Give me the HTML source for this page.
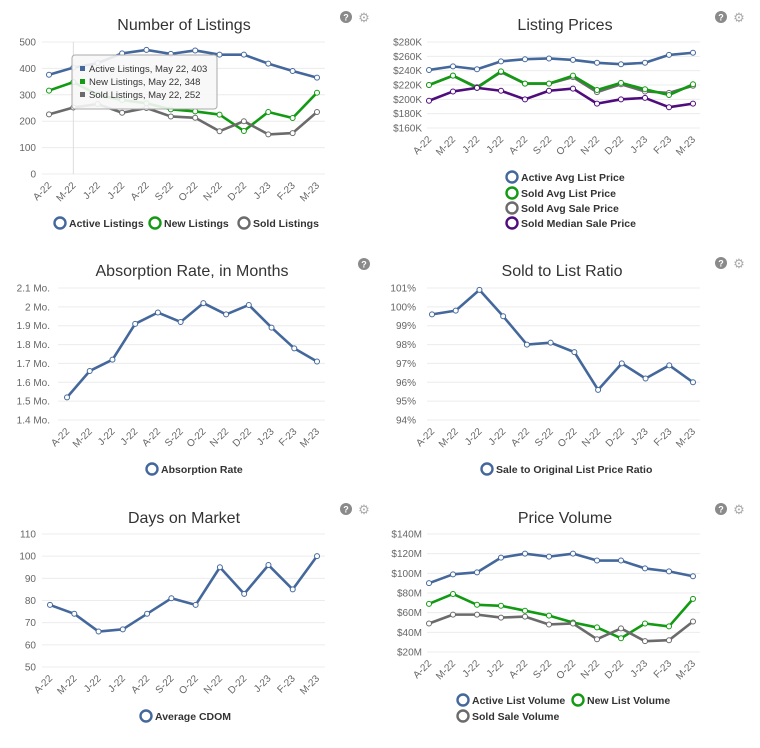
<!DOCTYPE html>
<html><head><meta charset="utf-8">
<style>
body{margin:0;background:#fff;width:760px;height:748px;overflow:hidden;font-family:"Liberation Sans",sans-serif}
svg{display:block}
</style></head>
<body>
<svg id="s" width="760" height="748" xmlns="http://www.w3.org/2000/svg"></svg>
<script>
const months = ["A-22","M-22","J-22","J-22","A-22","S-22","O-22","N-22","D-22","J-23","F-23","M-23"];
// Chart 1: Number of Listings
const activeListings = [376,403,420,457,470,455,468,452,452,418,390,365];
const newListings = [316,348,300,280,268,245,237,225,163,235,212,308];
const soldListings = [226,252,265,232,250,218,213,162,200,150,155,235];
const listingTicks = [0,100,200,300,400,500];
// Chart 2: Listing Prices (K)
const activeAvgList = [241,246,242,253,256,257,255,251,249,251,262,265];
const soldAvgList = [220,233,216,239,222,222,233,213,223,214,206,221];
const soldAvgSale = [220,233,217,238,222,222,231,210,221,211,209,219];
const soldMedianSale = [198,211,216,212,200,212,215,194,200,202,189,194];
const priceTicks = [160,180,200,220,240,260,280];
// Chart 3: Absorption
const absorption = [1.52,1.66,1.72,1.91,1.97,1.92,2.02,1.96,2.01,1.89,1.78,1.71];
const absorptionTicks = [1.4,1.5,1.6,1.7,1.8,1.9,2,2.1];
// Chart 4: Sold to list
const saleRatio = [99.6,99.8,100.9,99.5,98.0,98.1,97.6,95.6,97.0,96.2,96.9,96.0];
const ratioTicks = [94,95,96,97,98,99,100,101];
// Chart 5: Days on market
const cdom = [78,74,66,67,74,81,78,95,83,96,85,100];
const cdomTicks = [50,60,70,80,90,100,110];
// Chart 6: Price volume (M)
const activeVolume = [90,99,101,116,120,117,120,113,113,105,102,97];
const newVolume = [69,79,68,67,62,57,50,45,34,49,46,74];
const soldVolume = [49,58,58,55,56,48,49,33,44,31,32,51];
const volumeTicks = [20,40,60,80,100,120,140];

const BLUE="#44689c",GREEN="#129a12",GRAY="#6b6b6b",PURPLE="#4f0c7c";
const svg=document.getElementById('s');
const NS="http://www.w3.org/2000/svg";
function el(tag,attrs,parent,text){const e=document.createElementNS(NS,tag);for(const k in attrs)e.setAttribute(k,attrs[k]);if(text!==undefined)e.textContent=text;(parent||svg).appendChild(e);return e;}

function chart(cfg){
  const g=el('g',{});
  
  
  const lo=cfg.ticks[0],hi=cfg.ticks[cfg.ticks.length-1];
  const xs=i=>cfg.x0+(cfg.x1-cfg.x0)*i/(months.length-1);
  const ys=v=>cfg.yb+(cfg.yt-cfg.yb)*(v-lo)/(hi-lo);
  const t=el('text',{x:cfg.tx,y:cfg.ty,'text-anchor':'middle','font-size':16,fill:'#333'},g,cfg.title);
  
  
  cfg.ticks.forEach(v=>{
    const gl=el('line',{x1:cfg.gx0,x2:cfg.gx1,y1:ys(v),y2:ys(v),stroke:'#ececec','stroke-width':1},g);
    
    
    const tl=el('text',{x:cfg.lx,y:ys(v)+3.5,'text-anchor':'end','font-size':10,fill:'#666'},g,cfg.fmt(v));
    
    
  });
  months.forEach((m,i)=>{
    const x=xs(i),y=cfg.yb+12;
    const xl=el('text',{x:x+3,y:y,'text-anchor':'end','font-size':10,fill:'#666',transform:`rotate(-45 ${x+3} ${y})`},g,m);
    
    
  });
  if(cfg.cross){
    const c=el('line',{x1:xs(1),x2:xs(1),y1:cfg.yt,y2:cfg.yb,stroke:'#ddd'},g);
    
    
  }
  cfg.series.forEach(s=>{
    const d=s.data.map((v,i)=>(i?'L':'M')+xs(i)+' '+ys(v)).join(' ');
    const p=el('path',{d:d,fill:'none',stroke:s.color,'stroke-width':2.6,'stroke-linejoin':'round'},g);
    
    
    s.data.forEach((v,i)=>{
      const c=el('circle',{cx:xs(i),cy:ys(v),r:2.5,fill:'#fff',stroke:s.color,'stroke-width':1},g);
      
      
    });
  });
  cfg.legend.forEach(l=>{
    const lg=el('g',{},g);
    
    
    el('circle',{cx:l.x,cy:l.y-4,r:5.5,fill:'none',stroke:l.color,'stroke-width':2.4},lg);
    el('text',{x:l.x+9,y:l.y,'font-size':10.5,'font-weight':'bold',fill:'#333'},lg,l.label);
  });
  cfg.icons.forEach(ic=>{
    const h=el('g',{},g);
    
    
    el('circle',{cx:ic[0],cy:ic[1],r:6,fill:'#8a8a8a'},h);
    el('text',{x:ic[0],y:ic[1]+3.5,'text-anchor':'middle','font-size':9,'font-weight':'bold',fill:'#fff'},h,'?');
    if(ic[2]){
      const s=el('text',{x:ic[0]+18,y:ic[1]+5,'text-anchor':'middle','font-size':13,fill:'#aaa'},g,'⚙');
      
      
    }
  });
  return {g,xs,ys};
}

const c1=chart({name:'number-of-listings-chart',title:'Number of Listings',tx:184,ty:30,x0:49,x1:317,yt:42,yb:174,gx0:42,gx1:325,lx:36,
  ticks:listingTicks,fmt:v=>v,cross:true,
  series:[{id:'active-listings',data:activeListings,color:BLUE},{id:'new-listings',data:newListings,color:GREEN},{id:'sold-listings',data:soldListings,color:GRAY}],
  legend:[{x:60,y:227,color:BLUE,label:'Active Listings'},{x:155,y:227,color:GREEN,label:'New Listings'},{x:244,y:227,color:GRAY,label:'Sold Listings'}],
  icons:[[346,17,true]]});
// tooltip
const tip=el('g',{});


el('rect',{x:72,y:55,width:145,height:54,rx:3,fill:'#f7f7f7','fill-opacity':0.9,stroke:'#aaa'},tip);
[[BLUE,'Active Listings, May 22, 403'],[GREEN,'New Listings, May 22, 348'],[GRAY,'Sold Listings, May 22, 252']].forEach((r,i)=>{
  el('rect',{x:80,y:66+i*13,width:5,height:5,fill:r[0]},tip);
  el('text',{x:89,y:72+i*13,'font-size':9.5,fill:'#333'},tip,r[1]);
});

chart({name:'listing-prices-chart',title:'Listing Prices',tx:565,ty:30,x0:429,x1:693,yt:42,yb:128,gx0:427,gx1:700,lx:422,
  ticks:priceTicks,fmt:v=>'$'+v+'K',
  series:[{id:'active-avg-list',data:activeAvgList,color:BLUE},{id:'sold-avg-sale',data:soldAvgSale,color:GRAY},{id:'sold-avg-list',data:soldAvgList,color:GREEN},{id:'sold-median-sale',data:soldMedianSale,color:PURPLE}],
  legend:[{x:512,y:181,color:BLUE,label:'Active Avg List Price'},{x:512,y:197,color:GREEN,label:'Sold Avg List Price'},{x:512,y:212,color:GRAY,label:'Sold Avg Sale Price'},{x:512,y:227,color:PURPLE,label:'Sold Median Sale Price'}],
  icons:[[721,17,true]]});

chart({name:'absorption-rate-chart',title:'Absorption Rate, in Months',tx:192,ty:276,x0:67,x1:317,yt:288,yb:420,gx0:58,gx1:325,lx:50,
  ticks:absorptionTicks,fmt:v=>v+' Mo.',
  series:[{id:'absorption-rate',data:absorption,color:BLUE}],
  legend:[{x:152,y:473,color:BLUE,label:'Absorption Rate'}],
  icons:[[364,264,false]]});

chart({name:'sold-to-list-chart',title:'Sold to List Ratio',tx:562,ty:276,x0:432,x1:693,yt:288,yb:420,gx0:427,gx1:700,lx:416,
  ticks:ratioTicks,fmt:v=>v+'%',
  series:[{id:'sale-ratio',data:saleRatio,color:BLUE}],
  legend:[{x:487,y:473,color:BLUE,label:'Sale to Original List Price Ratio'}],
  icons:[[721,263,true]]});

chart({name:'days-on-market-chart',title:'Days on Market',tx:184,ty:523,x0:50,x1:317,yt:534,yb:667,gx0:42,gx1:325,lx:36,
  ticks:cdomTicks,fmt:v=>v,
  series:[{id:'average-cdom',data:cdom,color:BLUE}],
  legend:[{x:146,y:720,color:BLUE,label:'Average CDOM'}],
  icons:[[346,509,true]]});

chart({name:'price-volume-chart',title:'Price Volume',tx:565,ty:523,x0:429,x1:693,yt:534,yb:652,gx0:427,gx1:700,lx:422,
  ticks:volumeTicks,fmt:v=>'$'+v+'M',
  series:[{id:'active-list-volume',data:activeVolume,color:BLUE},{id:'new-list-volume',data:newVolume,color:GREEN},{id:'sold-sale-volume',data:soldVolume,color:GRAY}],
  legend:[{x:463,y:704,color:BLUE,label:'Active List Volume'},{x:578,y:704,color:GREEN,label:'New List Volume'},{x:463,y:720,color:GRAY,label:'Sold Sale Volume'}],
  icons:[[721,509,true]]});

svg.appendChild(tip);
</script>
</body></html>
